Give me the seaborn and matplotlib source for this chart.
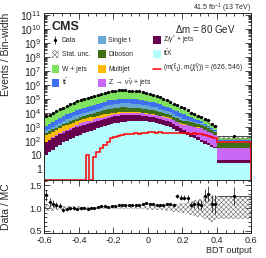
import numpy as np
import pandas as pd
import matplotlib
matplotlib.use("Agg")
import matplotlib.pyplot as plt
import seaborn as sns
from matplotlib.patches import Rectangle
from matplotlib.ticker import MultipleLocator, LogLocator, FuncFormatter, NullFormatter

# binning: 0.02 wide bins up to 0.4, then one wide bin up to 0.6
edges = np.append(np.round(np.arange(-0.6, 0.4001, 0.02), 2), 0.6)

# events / bin-width per process
wjets = [3310, 4680, 6610, 9330, 13200, 18600, 24000, 31600, 40700, 53700, 69200, 81300, 95500,
         112000, 132000, 155000, 178000, 204000, 234000, 251000, 263000, 282000, 295000, 282000,
         269000, 251000, 240000, 229000, 195000, 170000, 145000, 126000, 107000, 81300, 60300,
         45700, 33900, 24000, 16600, 11700, 8910, 6610, 5010, 3630, 2690, 1950, 1380, 980, 690,
         490, 40]
ttbar = [560, 810, 1180, 1660, 2400, 3470, 4370, 5500, 6920, 8710, 11000, 12900, 15100, 17800,
         20900, 24500, 29500, 36300, 43700, 45700, 46800, 49000, 50100, 49000, 47900, 46800,
         45700, 44700, 39800, 35500, 31600, 28200, 25100, 20400, 17000, 13800, 11200, 8710, 6920,
         5370, 3980, 2950, 2190, 1510, 1070, 740, 430, 245, 141, 81, 26]
singlet = [160, 245, 360, 550, 810, 1230, 1550, 1950, 2460, 3090, 3890, 4570, 5370, 6310, 7410,
           8710, 11000, 14100, 17800, 19500, 21400, 22900, 25100, 24500, 24000, 23400, 22900,
           22400, 19500, 17000, 14500, 12600, 11000, 8710, 6760, 5370, 4170, 3020, 2190, 1590,
           1120, 810, 575, 490, 430, 365, 250, 175, 117, 81, 32]
diboson = [150, 186, 234, 295, 370, 470, 620, 810, 1070, 1410, 1860, 2240, 2750, 3310, 4070, 4900,
           6030, 7240, 8910, 9770, 10700, 11500, 12600, 12300, 12000, 11700, 11500, 11200, 10000,
           9120, 8130, 7410, 6610, 5370, 4370, 3550, 2880, 2340, 1860, 1510, 1350, 1200, 1070,
           890, 720, 600, 460, 350, 260, 195, 37]
multijet = [160, 210, 275, 360, 470, 620, 720, 850, 1000, 1180, 1380, 1550, 1700, 1900, 2090,
            2340, 2460, 2510, 2630, 2630, 2630, 2570, 2570, 2240, 1900, 1660, 1410, 1230, 1020,
            870, 720, 620, 510, 400, 310, 240, 190, 140, 100, 76, 68, 59, 52, 37, 27, 19, 14, 11,
            8, 6, 0.7]
znunu = [10, 16, 25, 40, 63, 100, 140, 195, 275, 380, 525, 620, 720, 850, 1000, 1180, 1380, 1590,
         1860, 2090, 2340, 2630, 2950, 2980, 3020, 2950, 3000, 2920, 2880, 2820, 2750, 2690, 2630,
         2400, 2140, 1950, 1740, 1380, 1120, 890, 850, 830, 790, 740, 710, 660, 510, 390, 300,
         230, 26]
zgamma = [69, 93, 130, 175, 235, 315, 400, 500, 630, 780, 980, 1120, 1320, 1510, 1780, 2040, 2340,
          2630, 3020, 3390, 3800, 4270, 4790, 4790, 4680, 4570, 4370, 4270, 3800, 3390, 3090, 2750,
          2460, 2090, 1740, 1480, 1230, 850, 580, 400, 290, 210, 155, 105, 69, 47, 32, 21, 15, 10,
          1.9]
ttx = [10, 16, 24, 35, 54, 79, 100, 130, 170, 220, 280, 350, 430, 520, 650, 790, 950, 1180, 1410,
       1590, 1780, 2000, 2240, 2340, 2460, 2570, 2690, 2820, 2630, 2460, 2290, 2140, 2000, 1660,
       1410, 1200, 1000, 740, 540, 400, 320, 250, 200, 150, 110, 79, 63, 49, 39, 30, 2.5]
signal = [0, 0, 0, 0, 0, 0, 0, 0, 0, 0, 0, 0, 10, 0, 7, 17, 30, 50, 90, 150, 200, 230, 270, 300,
          330, 320, 350, 340, 380, 360, 420, 450, 400, 410, 390, 400, 380, 390, 370, 360, 380,
          350, 340, 360, 330, 300, 260, 220, 180, 150, 90]
# data / MC ratio per bin
ratio = [1.28, 1.13, 1.09, 1.06, 1.05, 0.96, 0.98, 0.99, 0.99, 0.98, 0.99, 0.99, 0.98, 0.99, 0.99,
         1.03, 1.04, 1.04, 1.03, 1.04, 1.04, 1.07, 1.07, 1.06, 1.07, 1.07, 1.06, 1.07, 1.08, 1.11,
         1.09, 1.08, 1.07, 1.06, 1.06, 1.09, 1.09, 1.07, 1.27, 1.23, 1.23, 1.23, 1.07, 1.08, 1.08,
         1.07, 1.27, 1.32, 1.10, 1.08, 1.27]
# relative MC stat. uncertainty
stat_unc = [0.07, 0.06, 0.06, 0.05, 0.05, 0.04, 0.04, 0.04, 0.04, 0.04, 0.04, 0.03, 0.03, 0.03,
            0.03, 0.03, 0.03, 0.03, 0.03, 0.03, 0.03, 0.03, 0.03, 0.03, 0.03, 0.03, 0.03, 0.03,
            0.03, 0.035, 0.035, 0.04, 0.04, 0.04, 0.05, 0.06, 0.07, 0.08, 0.09, 0.11, 0.12, 0.13,
            0.15, 0.17, 0.19, 0.21, 0.24, 0.26, 0.30, 0.26, 0.25]

procs = {
    "W + jets": (wjets, "#7fe35f"),
    r"$\mathrm{t\bar{t}}$": (ttbar, "#3f6ff2"),
    "Single t": (singlet, "#65a9d3"),
    "Diboson": (diboson, "#3e6f15"),
    "Multijet": (multijet, "#ffbb00"),
    r"Z $\rightarrow$ $\nu\bar{\nu}$ + jets": (znunu, "#c967f7"),
    r"Z/$\gamma^{*}$ + jets": (zgamma, "#66004f"),
    r"$\mathrm{t\bar{t}}$X": (ttx, "#b5fdfd"),
}
sig_label = r"(m($\tilde{\mathrm{t}}_{1}$), m($\tilde{\chi}^{0}_{1}$)) = (626, 546)"

sns.set_theme(style="ticks")
plt.rcParams["font.family"] = ["Liberation Sans", "DejaVu Sans"]
plt.rcParams["mathtext.fontset"] = "custom"
plt.rcParams["mathtext.rm"] = "Liberation Sans"
plt.rcParams["mathtext.it"] = "Liberation Sans:italic"
plt.rcParams["mathtext.bf"] = "Liberation Sans:bold"
plt.rcParams["hatch.linewidth"] = 0.4
plt.rcParams["axes.linewidth"] = 0.7

centers = 0.5 * (edges[:-1] + edges[1:])
widths = np.diff(edges)

rows = []
for name, (vals, col) in procs.items():
    for c, v in zip(centers, vals):
        rows.append({"bdt": c, "w": v, "process": name})
df = pd.DataFrame(rows)

total = np.sum([np.array(v[0], dtype=float) for v in procs.values()], axis=0)
unc = np.array(stat_unc)
data = np.array(ratio) * total
data_err = np.sqrt(data * widths) / widths

fig = plt.figure(figsize=(2.66, 2.58), dpi=100)
ax = fig.add_axes([0.167, 0.302, 0.778, 0.648])
rax = fig.add_axes([0.167, 0.096, 0.778, 0.206])

sns.histplot(data=df, x="bdt", weights="w", hue="process", hue_order=list(procs.keys()),
             palette={k: v[1] for k, v in procs.items()}, bins=edges.tolist(), multiple="stack",
             element="step", alpha=1, linewidth=0, legend=False, ax=ax)
ax.set_yscale("log")
ymin = 0.16
hatch_col = "#6a6a6a"
ax.stairs(total * (1 + unc), edges, baseline=total * (1 - unc), fill=True, facecolor="none",
          edgecolor=hatch_col, hatch="xxxxxxx", linewidth=0)
ax.stairs(np.clip(signal, ymin * 1.03, None), edges, color="red", linewidth=1.1)
ax.errorbar(centers, data, yerr=data_err, xerr=widths / 2, fmt="o", ms=1.3, color="black",
            elinewidth=0.5, capsize=0)

ax.set_xlim(-0.6, 0.6)
ax.set_ylim(ymin, 1.4e11)
ax.yaxis.set_major_locator(LogLocator(base=10, numticks=20))
ax.yaxis.set_minor_locator(LogLocator(base=10, subs=np.arange(2, 10), numticks=20))
ax.yaxis.set_minor_formatter(NullFormatter())


def logfmt(v, pos):
    e = int(round(np.log10(v)))
    if e == 0:
        return "1"
    if e == 1:
        return "10"
    return r"$10^{%d}$" % e


ax.yaxis.set_major_formatter(FuncFormatter(logfmt))
ax.xaxis.set_major_locator(MultipleLocator(0.2))
ax.xaxis.set_minor_locator(MultipleLocator(0.05))
ax.tick_params(which="both", direction="in", top=True, right=True, labelbottom=False,
               labelsize=7.5, pad=2, width=0.6)
ax.tick_params(which="major", length=4.5)
ax.tick_params(which="minor", length=2.2)
ax.set_xlabel("")
ax.set_ylabel("Events / Bin-width", fontsize=7.5, loc="top")
ax.yaxis.set_label_coords(-0.16, 1.0)

ax.text(0.036, 0.953, "CMS", transform=ax.transAxes, fontsize=9, fontweight="bold", va="top")
ax.text(0.63, 0.94, r"$\Delta$m = 80 GeV", transform=ax.transAxes, fontsize=7, va="top")
ax.text(1.0, 1.016, r"41.5 fb$^{-1}$ (13 TeV)", transform=ax.transAxes, fontsize=5,
        ha="right", va="baseline")

# legend, laid out by hand in 3 columns x 4 rows
col_x = [0.035, 0.26, 0.526]
row_y = [0.838, 0.753, 0.667, 0.581]
bw, bh = 0.036, 0.048
entries = [("data", "Data", None), ("unc", "Stat. unc.", None)]
entries += [("box", name, col) for name, (vals, col) in procs.items()]
entries += [("line", sig_label, "red")]
for k, (kind, label, col) in enumerate(entries):
    cx = col_x[k // 4]
    cy = row_y[k % 4]
    if kind == "data":
        ax.errorbar([cx + bw / 2], [cy], yerr=[0.022], fmt="o", ms=1.3, color="black",
                    elinewidth=0.5, capsize=0, transform=ax.transAxes, clip_on=False)
    elif kind == "unc":
        ax.add_patch(Rectangle((cx, cy - bh / 2), bw, bh, transform=ax.transAxes,
                               facecolor="none", edgecolor=hatch_col, hatch="xxxxxxx",
                               linewidth=0))
    elif kind == "box":
        ax.add_patch(Rectangle((cx, cy - bh / 2), bw, bh, transform=ax.transAxes,
                               facecolor=col, edgecolor="none"))
    else:
        ax.plot([cx, cx + bw], [cy, cy], color=col, linewidth=1.1, transform=ax.transAxes)
    ax.text(cx + bw + 0.013, cy - 0.013, label, transform=ax.transAxes, fontsize=4.9,
            va="baseline", ha="left")

# ratio panel
rax.stairs(1 + unc, edges, baseline=1 - unc, fill=True, facecolor="none", edgecolor=hatch_col,
           hatch="xxxxxxx", linewidth=0)
rax.errorbar(centers, ratio, yerr=data_err / total, xerr=widths / 2, fmt="o", ms=1.3,
             color="black", elinewidth=0.5, capsize=0)
rax.set_xlim(-0.6, 0.6)
rax.set_ylim(0.44, 1.62)
rax.xaxis.set_major_locator(MultipleLocator(0.2))
rax.xaxis.set_minor_locator(MultipleLocator(0.05))
rax.yaxis.set_major_locator(MultipleLocator(0.5))
rax.yaxis.set_minor_locator(MultipleLocator(0.1))
rax.xaxis.set_major_formatter(FuncFormatter(lambda v, p: "0" if abs(v) < 1e-9 else "%g" % v))
rax.tick_params(which="both", direction="in", top=True, right=True, labelsize=6.5, pad=2,
                width=0.6)
rax.tick_params(which="major", length=4.5)
rax.tick_params(which="minor", length=2.2)
rax.set_ylabel("Data / MC", fontsize=7.5)
rax.yaxis.set_label_coords(-0.16, 0.5)
rax.set_xlabel("BDT output", fontsize=6.5, loc="right", labelpad=1)

fig.savefig("out.png", dpi=100)
